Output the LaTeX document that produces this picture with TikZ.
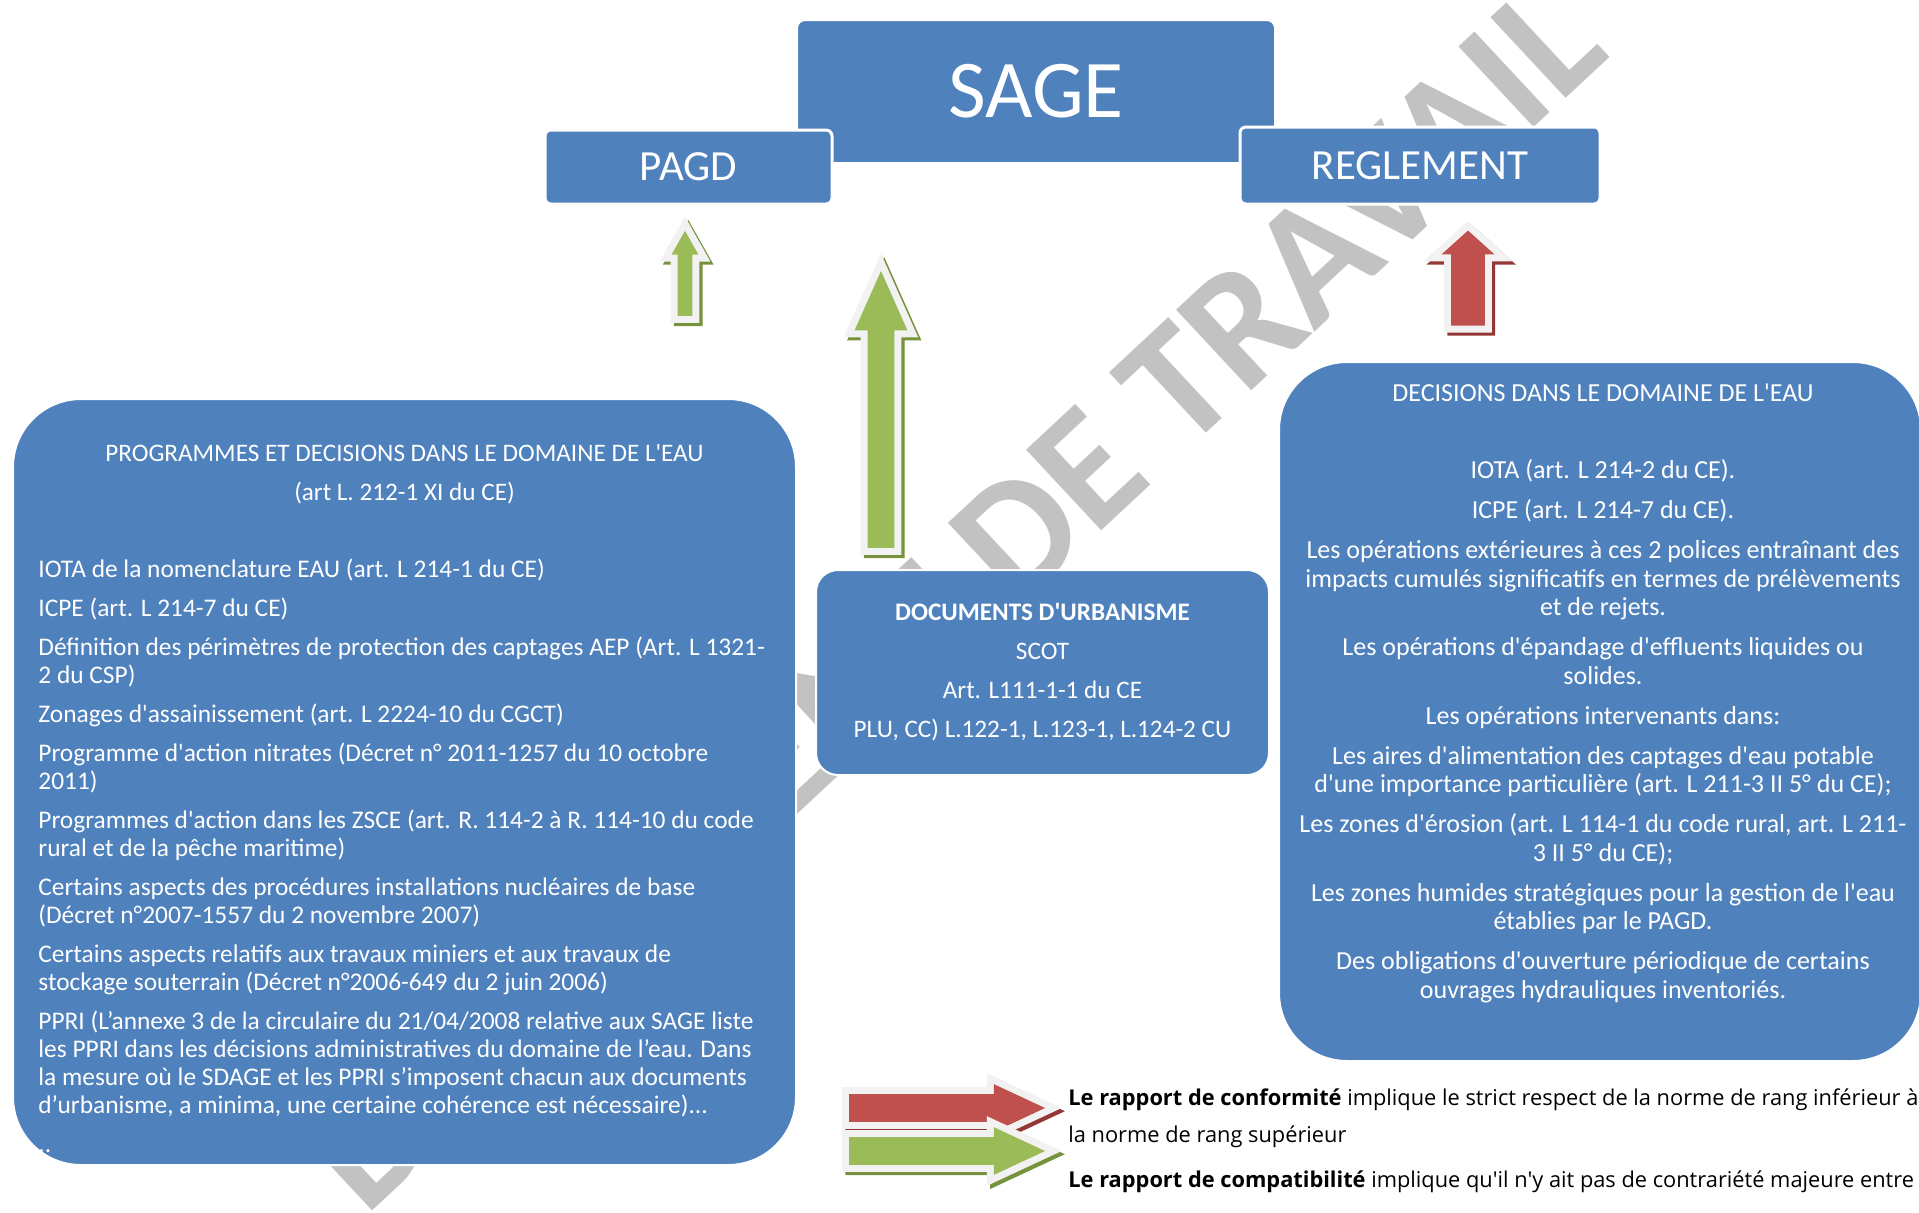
\documentclass[tikz,border=0pt]{standalone}
\usepackage{fontspec}
\setmainfont{Carlito}[Ligatures=TeXOff]
\newfontfamily\legendfont{Open Sans}[Ligatures=TeXOff]
\usetikzlibrary{positioning,shapes.arrows,shadows}

\definecolor{sageblue}{HTML}{4F81BD}
\definecolor{compgreen}{HTML}{9BBB59}
\definecolor{confred}{HTML}{C0504D}
\definecolor{glowgray}{HTML}{F2F2F2}
\definecolor{greenshade}{HTML}{76923C}
\definecolor{redshade}{HTML}{943634}

\tikzset{
  bluebox/.style = 	{shape=rectangle, fill=sageblue, draw=white,
				line width=1pt, text=white},
  headbox/.style = 	{bluebox, rounded corners=3pt, line width=1.5pt,
				font=\fontsize{21.5}{21.5}\selectfont},
  docbox/.style = 	{bluebox, rounded corners=34pt},
  boxtitle/.style = 	{text=white, align=center, font=\fontsize{12.6}{19.5}\selectfont},
  leftlist/.style = 	{text=white, align=left, font=\fontsize{12.7}{14}\selectfont},
  rightlist/.style = 	{text=white, align=center, font=\fontsize{13}{14.25}\selectfont},
  blockarrow/.style = 	{single arrow, draw=none,
				preaction={draw=glowgray, line width=7pt}},
  greenarrow/.style = 	{general shadow={shadow xshift=1.6pt, shadow yshift=-1.6pt,
				draw=greenshade, fill=greenshade, line width=7pt},
				blockarrow, fill=compgreen},
  redarrow/.style = 	{general shadow={shadow xshift=1.6pt, shadow yshift=-1.6pt,
				draw=redshade, fill=redshade, line width=7pt},
				blockarrow, fill=confred},
  uparrow/.style = 	{shape border rotate=90, anchor=tip},
  legendarrow/.style = 	{anchor=tip, minimum height=98pt, inner sep=6.75pt,
				single arrow head extend=5pt, single arrow tip angle=50},
  legendtext/.style = 	{anchor=base west, font=\legendfont\fontsize{10.9}{12}\selectfont},
  filigrane/.style = 	{text=gray!48, font=\bfseries\fontsize{85}{85}\selectfont},
}

\begin{document}
\begin{tikzpicture}
	[
		x                 = 0.5pt,
		y                 = -0.5pt,
		every node/.style = {inner sep=0pt}
	]
	\useasboundingbox (0,0) rectangle (1919,1212);

	% filigrane
	\node [filigrane, anchor=base east, rotate=43] (filig) at (1612,55) {DOCUMENT DE TRAVAIL};

	% SAGE et ses deux volets
	\node [bluebox, rounded corners=4pt, minimum width=239pt, minimum height=71.5pt,
		font=\fontsize{41}{41}\selectfont] (sage) at (1036,91.5) {SAGE};
	\node [headbox, minimum width=143.5pt, minimum height=37pt] (pagd) at (688.5,167) {PAGD};
	\node [headbox, minimum width=180pt, minimum height=38.5pt] (reglement) at (1420,165.5) {REGLEMENT};

	% fleches
	\node [greenarrow, uparrow, minimum height=42.5pt, inner sep=3.5pt,
		single arrow head extend=3pt, single arrow tip angle=59] (pagdarrow) at (685,230) {};
	\node [greenarrow, uparrow, minimum height=138.5pt, inner sep=6.5pt,
		single arrow head extend=6.5pt, single arrow tip angle=48] (urbaarrow) at (881,270) {};
	\node [redarrow, uparrow, minimum height=47.5pt, inner sep=8.25pt,
		single arrow head extend=4.75pt, single arrow tip angle=96] (reglarrow) at (1468,230) {};

	% programmes et decisions
	\node [docbox, minimum width=391.5pt, minimum height=383pt] (programmes) at (404.5,782) {};
	\node [boxtitle] (progtitle) [below=23pt of programmes.north]
		{PROGRAMMES ET DECISIONS DANS LE DOMAINE DE L'EAU\\(art L. 212-1 XI du CE)};
	\node [leftlist, anchor=base west] (progitems) at (38,1152)
		{IOTA de la nomenclature EAU (art. L 214-1 du CE)\\[5.5pt]
		ICPE (art. L 214-7 du CE)\\[5.5pt]
		Définition des périmètres de protection des captages AEP (Art. L 1321-\\
		2 du CSP)\\[5.5pt]
		Zonages d'assainissement (art. L 2224-10 du CGCT)\\[5.5pt]
		Programme d'action nitrates (Décret n° 2011-1257 du 10 octobre\\
		2011)\\[5.5pt]
		Programmes d'action dans les ZSCE (art. R. 114-2 à R. 114-10 du code\\
		rural et de la pêche maritime)\\[5.5pt]
		Certains aspects des procédures installations nucléaires de base\\
		(Décret n°2007-1557 du 2 novembre 2007)\\[5.5pt]
		Certains aspects relatifs aux travaux miniers et aux travaux de\\
		stockage souterrain (Décret n°2006-649 du 2 juin 2006)\\[5.5pt]
		PPRI (L’annexe 3 de la circulaire du 21/04/2008 relative aux SAGE liste\\
		les PPRI dans les décisions administratives du domaine de l’eau. Dans\\
		la mesure où le SDAGE et les PPRI s’imposent chacun aux documents\\
		d’urbanisme, a minima, une certaine cohérence est nécessaire)...\\[5.5pt]
		..};

	% documents d'urbanisme
	\node [bluebox, rounded corners=11pt, minimum width=226.5pt, minimum height=102.5pt,
		align=center, font=\fontsize{12.6}{19.5}\selectfont] (urba) at (1042.5,672.5)
		{\textbf{DOCUMENTS D'URBANISME}\\SCOT\\Art. L111-1-1 du CE\\PLU, CC) L.122-1, L.123-1, L.124-2 CU};

	% decisions
	\node [docbox, minimum width=321pt, minimum height=349.5pt] (decisions) at (1600,711.5) {};
	\node [boxtitle, font=\fontsize{13}{14}\selectfont] (dectitle) [below=11.5pt of decisions.north, xshift=1.5pt]
		{DECISIONS DANS LE DOMAINE DE L'EAU};
	\node [rightlist, anchor=base] (decitems) at (1603,998)
		{IOTA (art. L 214-2 du CE).\\[5.75pt]
		ICPE (art. L 214-7 du CE).\\[5.75pt]
		Les opérations extérieures à ces 2 polices entraînant des\\
		impacts cumulés significatifs en termes de prélèvements\\
		et de rejets.\\[5.75pt]
		Les opérations d'épandage d'effluents liquides ou\\
		solides.\\[5.75pt]
		Les opérations intervenants dans:\\[5.75pt]
		Les aires d'alimentation des captages d'eau potable\\
		d'une importance particulière (art. L 211-3 II 5° du CE);\\[5.75pt]
		Les zones d'érosion (art. L 114-1 du code rural, art. L 211-\\
		3 II 5° du CE);\\[5.75pt]
		Les zones humides stratégiques pour la gestion de l'eau\\
		établies par le PAGD.\\[5.75pt]
		Des obligations d'ouverture périodique de certains\\
		ouvrages hydrauliques inventoriés.};

	% legende
	\node [redarrow, legendarrow] (confarrow) at (1046,1108) {};
	\node [greenarrow, legendarrow] (comparrow) at (1046,1151) {};
	\node [legendtext] (conf1) at (1068,1105)
		{\textbf{Le rapport de conformité} implique le strict respect de la norme de rang inférieur à};
	\node [legendtext] (conf2) at (1068,1142) {la norme de rang supérieur};
	\node [legendtext] (comp1) at (1068,1187)
		{\textbf{Le rapport de compatibilité} implique qu'il n'y ait pas de contrariété majeure entre};
\end{tikzpicture}
\end{document}
